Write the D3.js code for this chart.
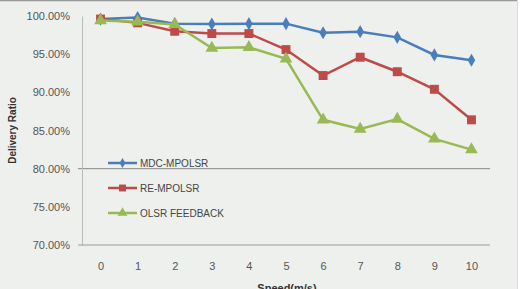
<!DOCTYPE html>
<html>
<head>
    <meta charset="utf-8">
    <title>Delivery Ratio</title>
    <script src="https://cdn.jsdelivr.net/npm/d3@7/dist/d3.min.js"></script>
    <style>
      body { margin: 0; background: #fff; }
      svg text { font-family: "Liberation Sans", Arial, sans-serif; }
    </style>
</head>
<body>
<script>
    var speeds = [0, 1, 2, 3, 4, 5, 6, 7, 8, 9, 10];
    var mdc = [99.6, 99.8, 99.0, 98.95, 99.0, 99.0, 97.8, 97.95, 97.2, 94.9, 94.2];
    var remp = [99.6, 99.1, 98.0, 97.7, 97.7, 95.6, 92.2, 94.6, 92.7, 90.4, 86.4];
    var olsr = [99.4, 99.25, 98.9, 95.8, 95.9, 94.4, 86.4, 85.2, 86.5, 83.9, 82.5];
    var yTicks = [70, 75, 80, 85, 90, 95, 100];
    var seriesNames = ["MDC-MPOLSR", "RE-MPOLSR", "OLSR FEEDBACK"];

    var width = 527, height = 289,
        plotLeft = 82, plotRight = 490, plotTop = 16, plotBottom = 245;

    var svg = d3.select("body").append("svg")
      .attr("width", width)
      .attr("height", height);

    svg.append("rect").attr("width", 517).attr("height", height).attr("fill", "#eef0ee");
    svg.append("line").attr("x1", 0).attr("x2", 517).attr("y1", 0.5).attr("y2", 0.5)
      .attr("stroke", "#999").attr("stroke-width", 1.5);
    svg.append("line").attr("x1", 517.5).attr("x2", 517.5).attr("y1", 0).attr("y2", height)
      .attr("stroke", "#dcdcdc");

    var x = d3.scalePoint().domain(speeds).range([plotLeft, plotRight]).padding(0.5);
    var y = d3.scaleLinear().domain([70, 100]).range([plotBottom, plotTop]);

    // 80% line
    svg.append("line").attr("x1", plotLeft - 4).attr("x2", plotRight)
      .attr("y1", y(80)).attr("y2", y(80)).attr("stroke", "#888").attr("stroke-width", 1);

    var yAxis = svg.append("g").attr("transform", "translate(" + plotLeft + ",0)")
      .call(d3.axisLeft(y).tickValues(yTicks).tickSize(0).tickPadding(12)
        .tickFormat(function(d) { return d.toFixed(2) + "%"; }));
    yAxis.select(".domain").attr("stroke", "#bbb");
    yAxis.selectAll("text").attr("font-size", 11).attr("fill", "#555");

    var xAxis = svg.append("g").attr("transform", "translate(0," + plotBottom + ")")
      .call(d3.axisBottom(x).tickSize(0).tickPadding(17));
    xAxis.select(".domain").attr("d", "M" + (plotLeft - 4) + ",0H" + plotRight).attr("stroke", "#999").attr("stroke-width", 1.2);
    xAxis.selectAll("text").attr("font-size", 11).attr("fill", "#555");

    svg.append("text")
      .attr("transform", "translate(16," + ((plotTop + plotBottom) / 2) + ") rotate(-90)")
      .attr("text-anchor", "middle").attr("font-size", 10).attr("font-weight", "bold")
      .attr("fill", "#333").text("Delivery Ratio");
    // axis title sits at the bottom edge, partly cut off as in the original
    svg.append("text").attr("x", 287).attr("y", 292).attr("text-anchor", "middle")
      .attr("font-size", 11).attr("font-weight", "bold").attr("fill", "#333").text("Speed(m/s)");

    var series = [
      { name: seriesNames[0], values: mdc, color: "#4a7ebb", shape: d3.symbolDiamond, size: 50 },
      { name: seriesNames[1], values: remp, color: "#be4b48", shape: d3.symbolSquare, size: 80 },
      { name: seriesNames[2], values: olsr, color: "#98b954", shape: d3.symbolTriangle, size: 70 }
    ];

    var line = d3.line()
      .x(function(d, i) { return x(speeds[i]); })
      .y(function(d) { return y(d); });

    series.forEach(function(s) {
      svg.append("path").datum(s.values)
        .attr("d", line).attr("fill", "none")
        .attr("stroke", s.color).attr("stroke-width", 2.5);
      svg.selectAll(null).data(s.values).enter().append("path")
        .attr("d", d3.symbol().type(s.shape).size(s.size))
        .attr("transform", function(d, i) { return "translate(" + x(speeds[i]) + "," + y(d) + ")"; })
        .attr("fill", s.color);
    });

    var legend = svg.append("g").attr("transform", "translate(108,163)");
    series.forEach(function(s, i) {
      var g = legend.append("g").attr("transform", "translate(0," + i * 25 + ")");
      g.append("line").attr("x1", 0).attr("x2", 29).attr("stroke", s.color).attr("stroke-width", 2.5);
      g.append("path").attr("d", d3.symbol().type(s.shape).size(s.size * 0.6))
        .attr("transform", "translate(14.5,0)").attr("fill", s.color);
      g.append("text").attr("x", 32).attr("y", 4).attr("font-size", 10)
        .attr("fill", "#444").text(s.name);
    });
</script>
</body>
</html>
